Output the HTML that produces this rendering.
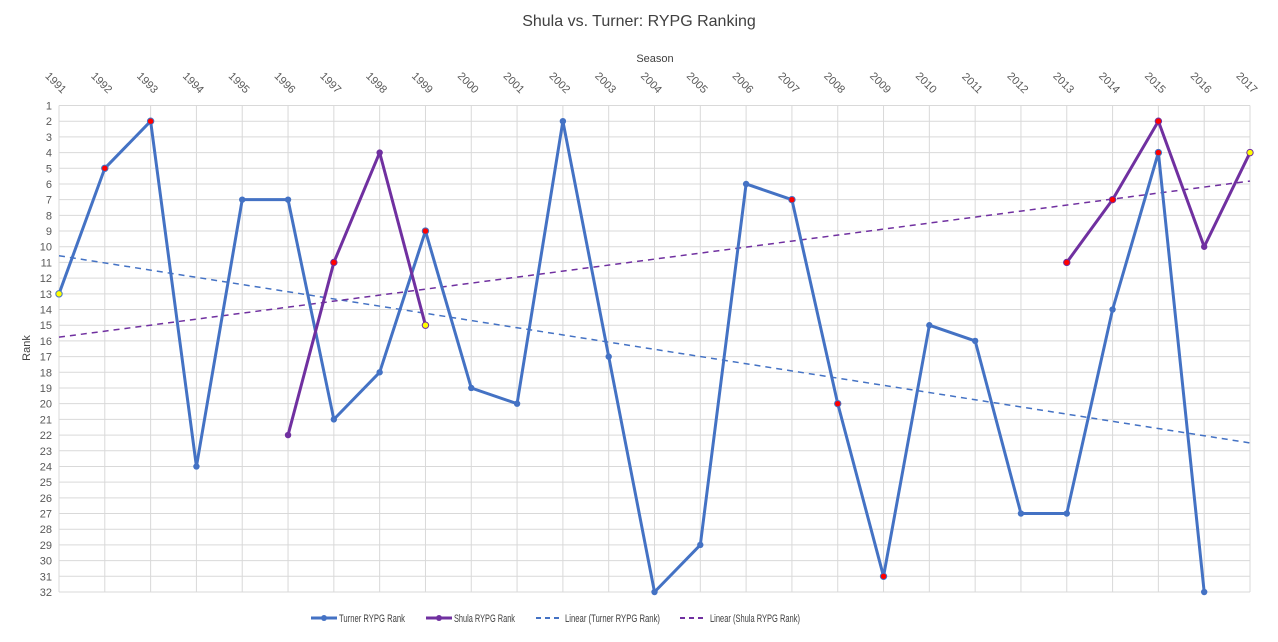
<!DOCTYPE html>
<html><head><meta charset="utf-8"><style>
body{margin:0;background:#fff;font-family:"Liberation Sans",sans-serif}
svg text{font-family:"Liberation Sans",sans-serif}
</style></head><body>
<svg id="chart" width="1278" height="637" xmlns="http://www.w3.org/2000/svg">
<rect width="1278" height="637" fill="#fff"/>
<text x="639" y="26" text-anchor="middle" font-size="16" fill="#404040">Shula vs. Turner: RYPG Ranking</text>
<text x="655" y="62" text-anchor="middle" font-size="11" fill="#404040">Season</text>
<text transform="translate(30,348) rotate(-90)" text-anchor="middle" font-size="11" fill="#404040">Rank</text>
<g id="grid"></g><g id="trends"></g><g id="series"></g><g id="labels"></g>
<g font-size="11" fill="#404040">
<line x1="311" y1="618" x2="337" y2="618" stroke="#4472C4" stroke-width="3"/><circle cx="324" cy="618" r="3" fill="#4472C4"/>
<text x="339" y="622" textLength="66" lengthAdjust="spacingAndGlyphs">Turner RYPG Rank</text>
<line x1="426" y1="618" x2="452" y2="618" stroke="#7030A0" stroke-width="3"/><circle cx="439" cy="618" r="3" fill="#7030A0"/>
<text x="454" y="622" textLength="61" lengthAdjust="spacingAndGlyphs">Shula RYPG Rank</text>
<line x1="536" y1="618" x2="562" y2="618" stroke="#4472C4" stroke-width="2" stroke-dasharray="5,4"/>
<text x="565" y="622" textLength="95" lengthAdjust="spacingAndGlyphs">Linear (Turner RYPG Rank)</text>
<line x1="680" y1="618" x2="707" y2="618" stroke="#7030A0" stroke-width="2" stroke-dasharray="5,4"/>
<text x="710" y="622" textLength="90" lengthAdjust="spacingAndGlyphs">Linear (Shula RYPG Rank)</text>
</g>
</svg>
<script>
const seasons=[1991,1992,1993,1994,1995,1996,1997,1998,1999,2000,2001,2002,2003,2004,2005,2006,2007,2008,2009,2010,2011,2012,2013,2014,2015,2016,2017];
const turner=[13,5,2,24,7,7,21,18,9,19,20,2,17,32,29,6,7,20,31,15,16,27,27,14,4,32,null];
const shula=[null,null,null,null,null,22,11,4,15,null,null,null,null,null,null,null,null,null,null,null,null,null,11,7,2,10,4];
const turnerMarks=['y','r','r',0,0,0,0,0,'r',0,0,0,0,0,0,0,'r','r','r',0,0,0,0,0,'r',0,0];
const shulaMarks=[0,0,0,0,0,0,'r',0,'y',0,0,0,0,0,0,0,0,0,0,0,0,0,'r','r','r',0,'y'];
const rankTicks=[];for(let r=1;r<=32;r++)rankTicks.push(r);
const X0=59,X1=1250,Y0=105.5,Y1=592;
const xs=i=>X0+(X1-X0)*i/(seasons.length-1);
const ys=r=>Y0+(Y1-Y0)*(r-1)/31;
const NS='http://www.w3.org/2000/svg';
function mk(tag,attrs,parent){const e=document.createElementNS(NS,tag);for(const k in attrs)e.setAttribute(k,attrs[k]);document.getElementById(parent).appendChild(e);return e;}
rankTicks.forEach(r=>{
 const l=mk('line',{x1:X0,x2:X1,y1:ys(r),y2:ys(r),stroke:'#d9d9d9','stroke-width':1},'grid');
 
 
 const t=mk('text',{x:52,y:ys(r)+4,'text-anchor':'end','font-size':11,fill:'#595959'},'labels');
 t.textContent=r;
 
 
});
seasons.forEach((s,i)=>{
 const l=mk('line',{x1:xs(i),x2:xs(i),y1:Y0,y2:Y1,stroke:'#d9d9d9','stroke-width':1},'grid');
 
 
 const t=mk('text',{transform:`translate(${xs(i)+3},${94}) rotate(45)`,'text-anchor':'end','font-size':11,fill:'#595959'},'labels');
 t.textContent=s;
 
 
});
function trend(vals,color,name){
 const pts=[];vals.forEach((v,i)=>{if(v!=null)pts.push([i,v]);});
 const n=pts.length,mx=pts.reduce((a,p)=>a+p[0],0)/n,my=pts.reduce((a,p)=>a+p[1],0)/n;
 let sxy=0,sxx=0;pts.forEach(p=>{sxy+=(p[0]-mx)*(p[1]-my);sxx+=(p[0]-mx)**2;});
 const b=sxy/sxx,a=my-b*mx,last=seasons.length-1;
 const l=mk('line',{x1:xs(0),y1:ys(a),x2:xs(last),y2:ys(a+b*last),stroke:color,'stroke-width':1.5,'stroke-dasharray':'6,5'},'trends');
 
 
}
trend(turner,'#4472C4','turner-trendline');
trend(shula,'#7030A0','shula-trendline');
function series(vals,marks,color,name){
 let d='',pen=false;
 vals.forEach((v,i)=>{if(v==null){pen=false;return;}d+=(pen?'L':'M')+xs(i)+' '+ys(v)+' ';pen=true;});
 const p=mk('path',{d:d,fill:'none',stroke:color,'stroke-width':3,'stroke-linejoin':'round'},'series');
 
 
 vals.forEach((v,i)=>{if(v==null)return;
  const m=marks[i];const fill=m==='r'?'#FF0000':m==='y'?'#FFFF00':color;
  const c=mk('circle',{cx:xs(i),cy:ys(v),r:3.2,fill:fill,stroke:color,'stroke-width':m?1:0},'series');
  
  
 });
}
series(turner,turnerMarks,'#4472C4','turner');
series(shula,shulaMarks,'#7030A0','shula');
</script>
</body></html>
